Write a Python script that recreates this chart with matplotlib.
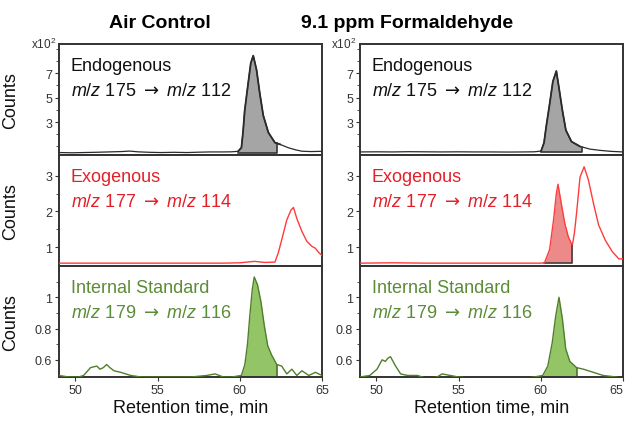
import numpy as np
import matplotlib
matplotlib.use('Agg')
import matplotlib.pyplot as plt

plt.rcParams['font.family'] = ['Liberation Sans', 'DejaVu Sans']
plt.rcParams['mathtext.fontset'] = 'custom'
plt.rcParams['mathtext.it'] = 'Liberation Sans:italic'
plt.rcParams['mathtext.rm'] = 'Liberation Sans'
plt.rcParams['mathtext.sf'] = 'DejaVu Sans'

# ---- chromatogram traces (time in min, counts) ----
endo_air_t = [49.0, 49.8, 50.5, 51.2, 52.0, 52.8, 53.3, 53.8, 54.5, 55.2, 56.0, 56.8, 57.5, 58.2, 59.0, 59.5,
              59.9, 60.1, 60.2, 60.3, 60.51, 60.67, 60.82, 61.02, 61.22, 61.43, 61.74, 62.14, 62.45, 62.96,
              63.4, 63.78, 64.3, 65.0]
endo_air_y = [0.50, 0.48, 0.50, 0.52, 0.55, 0.58, 0.62, 0.56, 0.52, 0.50, 0.52, 0.50, 0.53, 0.55, 0.55, 0.56,
              0.60, 0.90, 2.2, 3.94, 6.17, 7.83, 8.44, 7.28, 5.33, 3.53, 2.14, 1.31, 1.17, 0.89,
              0.72, 0.61, 0.58, 0.60]

endo_fa_t = [49.0, 50, 51, 52, 53, 54, 55, 56, 57, 58, 59, 59.6, 60.02, 60.2, 60.33, 60.54, 60.74, 60.95,
             61.11, 61.32, 61.53, 61.87, 62.39, 63.0, 63.6, 64.24, 65.0]
endo_fa_y = [0.55, 0.56, 0.55, 0.57, 0.56, 0.55, 0.56, 0.55, 0.55, 0.54, 0.55, 0.56, 0.62, 1.3, 2.6, 4.46, 6.33, 7.18,
             5.8, 3.93, 2.33, 1.4, 1.0, 0.78, 0.68, 0.60, 0.55]

exo_air_t = [49, 50, 51, 52, 53, 54, 55, 56, 57, 58, 59, 60, 60.9, 61.5, 62.14, 62.35, 62.55, 62.86, 63.12,
             63.27, 63.47, 63.78, 64.08, 64.39, 64.59, 64.84, 65.0]
exo_air_y = [0.55, 0.55, 0.55, 0.55, 0.55, 0.55, 0.55, 0.55, 0.55, 0.55, 0.55, 0.56, 0.60, 0.57, 0.58, 0.85, 1.2,
             1.76, 2.04, 2.11, 1.8, 1.44, 1.16, 1.02, 0.97, 0.83, 0.77]

exo_fa_t = [49, 51, 53, 55, 57, 59, 60.0, 60.23, 60.54, 60.78, 60.95, 61.05, 61.25, 61.46, 61.67, 61.87, 61.93,
            62.05, 62.18, 62.39, 62.64, 62.9, 63.21, 63.52, 63.93, 64.34, 64.75, 65.0]
exo_fa_y = [0.55, 0.56, 0.55, 0.55, 0.55, 0.55, 0.55, 0.56, 0.93, 1.76, 2.5, 2.76, 2.22, 1.67, 1.3, 1.09, 1.07,
            1.4, 1.95, 2.96, 3.25, 2.88, 2.22, 1.62, 1.19, 0.88, 0.67, 0.67]

is_air_t = [49.0, 49.6, 50.2, 50.5, 50.92, 51.3, 51.5, 51.7, 51.9, 52.1, 52.35, 52.76, 53.37, 54, 55, 56, 57, 58,
            58.5, 59, 59.5, 60.1, 60.31, 60.47, 60.61, 60.76, 60.88, 61.08, 61.29, 61.49, 61.7, 61.94, 62.25,
            62.55, 62.86, 63.17, 63.47, 63.78, 64.2, 64.6, 65.0]
is_air_y = [0.50, 0.49, 0.49, 0.50, 0.55, 0.56, 0.54, 0.55, 0.57, 0.55, 0.53, 0.52, 0.50, 0.49, 0.49, 0.49, 0.49,
            0.50, 0.51, 0.49, 0.49, 0.50, 0.57, 0.70, 0.88, 1.05, 1.13, 1.08, 0.97, 0.82, 0.69, 0.63, 0.57,
            0.56, 0.51, 0.54, 0.50, 0.53, 0.50, 0.52, 0.50]

is_fa_t = [49.0, 49.6, 50.04, 50.35, 50.55, 50.7, 50.86, 51.17, 51.48, 51.9, 52.5, 53.1, 53.7, 54, 55, 56, 57, 58,
           59, 59.6, 60.12, 60.43, 60.7, 60.91, 61.11, 61.32, 61.52, 61.77, 62.18, 62.6, 63.2, 63.8, 64.6, 65.0]
is_fa_y = [0.49, 0.50, 0.54, 0.60, 0.59, 0.61, 0.62, 0.56, 0.51, 0.50, 0.50, 0.48, 0.49, 0.51, 0.49, 0.48, 0.48,
           0.48, 0.48, 0.49, 0.50, 0.56, 0.71, 0.88, 1.00, 0.86, 0.67, 0.59, 0.55, 0.54, 0.52, 0.50, 0.49, 0.48]

# integrated windows: (start, end, baseline)
endo_air_win = (59.9, 62.25, 0.47)
endo_fa_win = (60.0, 62.49, 0.55)
exo_fa_win = (60.2, 61.93, 0.55)
is_air_win = (60.1, 62.25, 0.49)
is_fa_win = (60.1, 62.18, 0.48)

titles = ['Air Control', '9.1 ppm Formaldehyde']
row_names = ['Endogenous', 'Exogenous', 'Internal Standard']
row_mz = [r'$\mathit{m/z}$ 175 $\mathsf{\rightarrow}$ $\mathit{m/z}$ 112',
          r'$\mathit{m/z}$ 177 $\mathsf{\rightarrow}$ $\mathit{m/z}$ 114',
          r'$\mathit{m/z}$ 179 $\mathsf{\rightarrow}$ $\mathit{m/z}$ 116']

line_colors = ['#2b2b2b', '#ff3b3b', '#4f7f2a']
fill_colors = ['#a5a5a5', '#ec8a8a', '#93c566']
edge_colors = ['#2b2b2b', '#3a3a3a', '#3f6a20']
text_colors = ['#111111', '#e3202a', '#5b8c36']

ylims = [(0.3, 9.4), (0.47, 3.58), (0.49, 1.2)]
yticks = [[3, 5, 7], [1, 2, 3], [0.6, 0.8, 1.0]]
ytlabels = [['3', '5', '7'], ['1', '2', '3'], ['0.6', '0.8', '1']]
yminor = [[1, 2, 4, 6, 8, 9], [1.5, 2.5], [0.7, 0.9, 1.1]]

traces = [[(endo_air_t, endo_air_y, endo_air_win), (endo_fa_t, endo_fa_y, endo_fa_win)],
          [(exo_air_t, exo_air_y, None), (exo_fa_t, exo_fa_y, exo_fa_win)],
          [(is_air_t, is_air_y, is_air_win), (is_fa_t, is_fa_y, is_fa_win)]]

fig = plt.figure(figsize=(6.27, 4.27), dpi=100)
lefts = [0.094, 0.574]
width = 0.4195
bottoms = [0.6347, 0.3747, 0.1147]
height = 0.26

for c in range(2):
    for r in range(3):
        ax = fig.add_axes([lefts[c], bottoms[r], width, height])
        t, y, win = traces[r][c]
        t = np.array(t)
        y = np.array(y)
        if win is not None:
            t0, t1, base = win
            m = (t > t0) & (t < t1)
            ft = np.concatenate([[t0], t[m], [t1]])
            fy = np.concatenate([[np.interp(t0, t, y)], y[m], [np.interp(t1, t, y)]])
            ax.fill_between(ft, base, fy, color=fill_colors[r], lw=0, zorder=1)
            ax.plot([t0, t1, t1], [base, base, fy[-1]], color=edge_colors[r], lw=1.1, zorder=2)
        ax.plot(t, y, color=line_colors[r], lw=1.0 if r != 0 else 0.9, zorder=3)
        if r == 0:
            sel = (t >= 59.9) & (t <= 62.6)
            ax.plot(t[sel], y[sel], color=line_colors[r], lw=1.3, zorder=3)

        ax.set_xlim(49, 65)
        ax.set_ylim(*ylims[r])
        ax.set_yticks(yticks[r])
        ax.set_yticklabels(ytlabels[r])
        ax.set_yticks(yminor[r], minor=True)
        ax.set_xticks([50, 55, 60, 65])
        ax.tick_params(axis='both', which='major', direction='out', length=3, width=0.8,
                       labelsize=9, colors='#333333', pad=2)
        ax.tick_params(axis='y', which='minor', direction='out', length=2, width=0.6, colors='#333333')
        if r < 2:
            ax.tick_params(axis='x', labelbottom=False, length=0)
        else:
            ax.set_xlabel('Retention time, min', fontsize=13, color='#111111')
            ax.xaxis.set_label_coords(0.5, -0.19)
            if c == 1:
                ax.get_xticklabels()[-1].set_horizontalalignment('right')
                ax.get_xticklabels()[-1].set_x(65.2)
        for s in ax.spines.values():
            s.set_linewidth(1.4)
            s.set_color('#333333')
        if c == 0:
            ax.set_ylabel('Counts', fontsize=13, color='#111111')
            ax.yaxis.set_label_coords(-0.15, 0.5)

        ax.text(0.045, 0.88, row_names[r], transform=ax.transAxes, fontsize=13,
                color=text_colors[r], va='top', ha='left')
        ax.text(0.045, 0.66, row_mz[r], transform=ax.transAxes, fontsize=13,
                color=text_colors[r], va='top', ha='left')

    fig.text([44 / 627, 344 / 627][c], 1 - 44 / 427, r'x10$^{2}$', fontsize=8.5,
             color='#333333', ha='center', va='center')

fig.text(160 / 627, 1 - 23 / 427, titles[0], fontsize=14, fontweight='bold', ha='center', va='center')
fig.text(407 / 627, 1 - 23 / 427, titles[1], fontsize=14, fontweight='bold', ha='center', va='center')

fig.savefig('out.png', dpi=100)
